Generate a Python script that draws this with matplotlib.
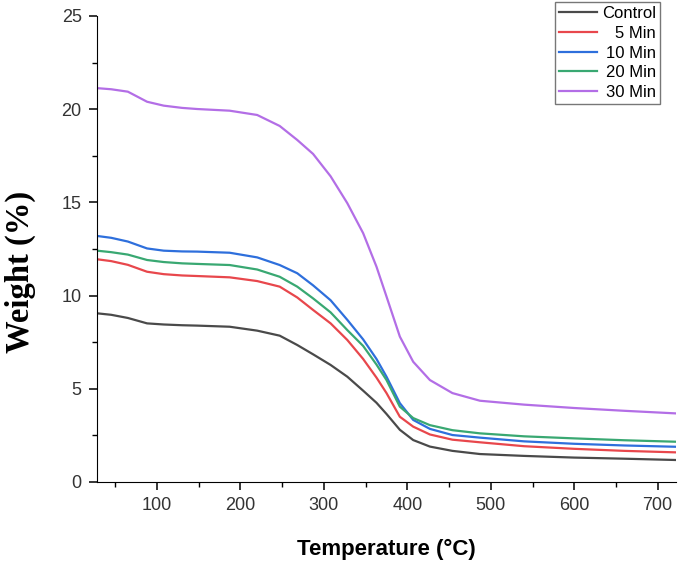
import matplotlib.pyplot as plt
import numpy as np

# Температура (°C)
temp = [28, 45, 65, 88, 108, 130, 148, 187, 220, 247, 268, 287, 308, 328, 347, 363, 375,
        391, 407, 427, 454, 487, 540, 600, 660, 722]

control = [9.05, 8.97, 8.8, 8.51, 8.45, 8.41, 8.39, 8.33, 8.12, 7.85, 7.35, 6.85, 6.28, 5.65, 4.9, 4.25, 3.65,
           2.8, 2.25, 1.9, 1.67, 1.5, 1.4, 1.31, 1.25, 1.18]
min5 = [11.95, 11.85, 11.65, 11.28, 11.15, 11.08, 11.05, 10.98, 10.78, 10.48, 9.9, 9.23, 8.51, 7.62, 6.6, 5.6, 4.77,
        3.5, 2.97, 2.55, 2.27, 2.13, 1.92, 1.78, 1.67, 1.59]
min10 = [13.2, 13.1, 12.9, 12.53, 12.41, 12.37, 12.36, 12.3, 12.05, 11.64, 11.2, 10.55, 9.75, 8.7, 7.65, 6.6, 5.65,
         4.23, 3.33, 2.85, 2.52, 2.38, 2.18, 2.05, 1.96, 1.89]
min20 = [12.41, 12.33, 12.2, 11.91, 11.8, 11.73, 11.7, 11.64, 11.4, 11.01, 10.48, 9.85, 9.1, 8.15, 7.3, 6.3, 5.47,
         4.04, 3.43, 3.05, 2.78, 2.61, 2.45, 2.34, 2.24, 2.16]
min30 = [21.13, 21.07, 20.94, 20.4, 20.19, 20.07, 20.01, 19.92, 19.69, 19.1, 18.35, 17.6, 16.4, 14.96, 13.35, 11.55, 9.95,
         7.8, 6.45, 5.47, 4.77, 4.36, 4.15, 3.97, 3.82, 3.68]

series = [("Control", control, "#4a4a4a"),
          ("5 Min", min5, "#e8474c"),
          ("10 Min", min10, "#2e6fdc"),
          ("20 Min", min20, "#39a872"),
          ("30 Min", min30, "#b36ee6")]

fig = plt.figure(figsize=(6.79, 5.62), dpi=100)
ax = fig.add_axes([97 / 679, 80 / 562, 579 / 679, 466 / 562])

for name, vals, col in series:
    ax.plot(temp, vals, color=col, lw=1.6, label=name, solid_joinstyle='round')

ax.set_xlim(28, 722)
ax.set_ylim(0, 25)
ax.set_xticks([100, 200, 300, 400, 500, 600, 700])
ax.set_xticks(np.arange(50, 721, 50), minor=True)
ax.set_yticks([0, 5, 10, 15, 20, 25])
ax.set_yticks(np.arange(0, 25.1, 2.5), minor=True)
ax.spines['top'].set_visible(False)
ax.spines['right'].set_visible(False)
ax.tick_params(which='major', length=6, width=1.1, labelsize=13, direction='out', pad=5)
ax.tick_params(which='minor', length=3.5, width=1.0, direction='out')
for lab in ax.get_xticklabels() + ax.get_yticklabels():
    lab.set_fontfamily('Liberation Sans')
    lab.set_color('#333333')

ax.set_xlabel('Temperature (°C)', fontfamily='Liberation Sans', fontweight='bold', fontsize=16, labelpad=18)
ax.set_ylabel('Weight (%)', fontfamily='Liberation Serif', fontweight='bold', fontsize=23.5)
ax.yaxis.set_label_coords(-0.106, 0.45)

leg = ax.legend(loc='upper right', bbox_to_anchor=(0.973, 1.03), frameon=True, fancybox=False,
                prop={'family': 'Liberation Sans', 'size': 12}, handlelength=2.3,
                handletextpad=0.3, labelspacing=0.28, borderpad=0.25, borderaxespad=0)
leg.get_frame().set_edgecolor('#555555')
leg.get_frame().set_linewidth(1.0)
plt.draw()
# выравнивание текста легенды по правому краю
w = max(t.get_window_extent().width for t in leg.get_texts())
for t in leg.get_texts():
    t.set_position((w - t.get_window_extent().width, 0))

fig.savefig('out.png', dpi=100)
